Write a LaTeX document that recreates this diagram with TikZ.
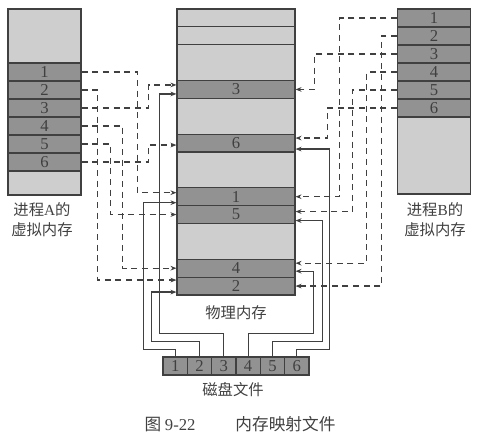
\documentclass[tikz,border=0pt]{standalone}
\usepackage{fontspec}
\setmainfont{Liberation Serif}
\newfontfamily\cjk{Noto Sans CJK SC}
\usetikzlibrary{arrows.meta,calc}

\definecolor{lightpage}{RGB}{206,206,206}
\definecolor{darkpage}{RGB}{146,146,146}
\definecolor{inkline}{RGB}{64,64,64}

\tikzset{every picture/.style={line width=0.9pt}}
\tikzset{
  vpage/.style={draw=inkline, fill=darkpage, line width=0.8pt, minimum width=54.75pt, minimum height=13.5pt, inner sep=0pt, text=inkline, font=\fontsize{12.5}{12.5}\selectfont},
  ppage/.style={vpage, minimum width=88.5pt, minimum height=13.4pt},
  fpage/.style={vpage, minimum width=18.25pt},
  vmap/.style={draw=inkline, dash pattern=on 4.5pt off 3.5pt, -{Stealth[length=4.5pt,width=3.5pt]}},
  fmap/.style={draw=inkline, -{Stealth[length=4.5pt,width=3.5pt]}},
  cntext/.style={text=inkline, align=center, inner sep=0pt, font=\cjk\fontsize{11.5}{15}\selectfont}
}

\begin{document}
\begin{tikzpicture}[x=0.75pt,y=0.75pt,yscale=-1,xscale=1]
    \useasboundingbox (0,0) rectangle (481,435);

    %Process A virtual memory
    \draw [draw=inkline, fill=lightpage, line width=0.8pt] (8,9) rectangle (81,195);
    \foreach \i in {1,...,6}
      \node [vpage] (A\i) at (44.5,{54+18*\i}) {\i};

    %Process B virtual memory
    \draw [draw=inkline, fill=lightpage, line width=0.8pt] (397.5,9) rectangle (470.5,194);
    \foreach \i in {1,...,6}
      \node [vpage] (B\i) at (434,{18*\i}) {\i};

    %Physical memory
    \draw [draw=inkline, fill=lightpage, line width=0.8pt] (177,9) rectangle (295,295);
    \draw [draw=inkline, line width=0.8pt] (177,26.9) -- (295,26.9) (177,44.75) -- (295,44.75);
    \foreach \k/\p in {4/3,7/6,10/1,11/5,14/4,15/2}
      \node [ppage] (P\p) at (236,{9+17.875*(\k+0.5)}) {\p};

    %Disk file
    \foreach \i in {1,...,6}
      \node [fpage] (F\i) at ({163+24.33*(\i-0.5)},366) {\i};

    %Dashed Lines: process A to physical memory
    \draw [vmap] (A1.east) -- ++(56,0) |- ($(P1.west)+(0,-4)$);
    \draw [vmap] (A2.east) -- ++(16,0) |- ($(P2.west)+(0,-6)$);
    \draw [vmap] (A3.east) -- ++(67,0) |- ($(P3.west)+(0,-4.5)$);
    \draw [vmap] (A4.east) -- ++(41,0) |- (P4.west);
    \draw [vmap] (A5.east) -- ++(29,0) |- (P5.west);
    \draw [vmap] (A6.east) -- ++(67,0) |- ($(P6.west)+(0,2)$);

    %Dashed Lines: process B to physical memory
    \draw [vmap] (B1.west) -- ++(-57.5,0) |- (P1.east);
    \draw [vmap] (B2.west) -- ++(-15.5,0) |- (P2.east);
    \draw [vmap] (B3.west) -- ++(-82.5,0) |- (P3.east);
    \draw [vmap] (B4.west) -- ++(-30.5,0) |- ($(P4.east)+(0,-5)$);
    \draw [vmap] (B5.west) -- ++(-44.5,0) |- ($(P5.east)+(0,-3)$);
    \draw [vmap] (B6.west) -- ++(-69.5,0) |- ($(P6.east)+(0,-5)$);

    %Straight Lines: disk file to physical memory
    \draw [fmap] (F1.north) -- ++(0,-7) -- ++(-32,0) |- ($(P1.west)+(0,6)$);
    \draw [fmap] (F2.north) -- ++(0,-15) -- ++(-48,0) |- ($(P2.west)+(0,6)$);
    \draw [fmap] (F3.north) -- ++(0,-23) -- ++(-64,0) |- ($(P3.west)+(0,4.5)$);
    \draw [fmap] (F4.north) -- ++(0,-23) -- ++(65,0) |- ($(P4.east)+(0,3)$);
    \draw [fmap] (F5.north) -- ++(0,-15) -- ++(50,0) |- ($(P5.east)+(0,6)$);
    \draw [fmap] (F6.north) -- ++(0,-7) -- ++(33,0) |- ($(P6.east)+(0,6)$);

    % Text Node
    \node [cntext] (labA) at (42,220) {进程{\rmfamily A}的\\虚拟内存};
    % Text Node
    \node [cntext] (labB) at (435,220) {进程{\rmfamily B}的\\虚拟内存};
    % Text Node
    \node [cntext] (labP) at (236,313) {物理内存};
    % Text Node
    \node [cntext] (labF) at (233,390) {磁盘文件};
    % Text Node
    \node [cntext, font=\cjk\fontsize{12.5}{15}\selectfont] (caption) at (240,424) {图~{\rmfamily 9-22}\hspace{2.4em}内存映射文件};

\end{tikzpicture}
\end{document}
